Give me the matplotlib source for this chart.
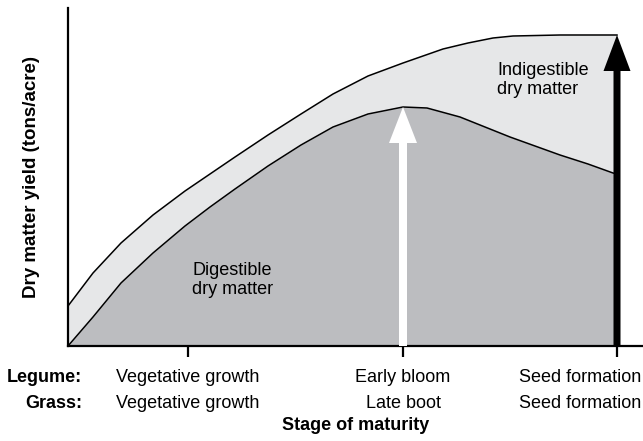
import numpy as np
import matplotlib
matplotlib.use('Agg')
import matplotlib.pyplot as plt

plt.rcParams['font.family'] = ['Liberation Sans', 'DejaVu Sans']

# stage axis (arbitrary units) and yields
total_x = [0, 25, 53, 85, 117, 142, 167, 200, 233, 265, 300, 335, 375, 400, 425, 445, 492, 549]
total_y = [40, 73, 103, 131, 155, 172, 189, 211, 232, 252, 270, 283, 297, 303, 308, 310, 311, 311]
digest_x = [0, 25, 53, 85, 117, 142, 167, 200, 233, 265, 300, 335, 359, 392, 417, 442, 467, 492, 520, 545, 549]
digest_y = [0, 29, 63, 93, 120, 139, 157, 180, 201, 219, 232, 239, 238, 229, 219, 209, 200, 191, 182, 173, 172]

stage_x = [120, 335, 549]
legume_lbl = ['Vegetative growth', 'Early bloom', 'Seed formation']
grass_lbl = ['Vegetative growth', 'Late boot', 'Seed formation']

peak_digest = 239   # early bloom
peak_total = 311    # seed formation

light = '#e6e7e8'
dark = '#bcbdc0'

fig = plt.figure(figsize=(6.43, 4.41), dpi=100)
ax = fig.add_axes([68/643, 95/441, 575/643, 338/441])
ax.set_xlim(0, 575)
ax.set_ylim(0, 338)

tx = np.array(total_x)
ty = np.array(total_y)
dx = np.array(digest_x)
dy = np.array(digest_y)
# light band between the two curves, dark area under digestible curve
ax.fill_between(tx, ty, np.interp(tx, dx, dy), color=light, lw=0)
ax.fill_between(dx, dy, np.interp(dx, tx, ty), color=light, lw=0)
ax.fill_between(dx, 0, dy, color=dark, lw=0)
ax.plot(tx, ty, color='black', lw=1.1, solid_joinstyle='round')
ax.plot(dx, dy, color='black', lw=1.1, solid_joinstyle='round')

# arrows
ax.arrow(stage_x[1], 0, 0, peak_digest, width=8, head_width=28, head_length=36,
         length_includes_head=True, color='white', lw=0, zorder=5)
ax.arrow(stage_x[2], 0, 0, peak_total, width=7, head_width=27, head_length=36,
         length_includes_head=True, color='black', lw=0, zorder=5)

ax.text(429, 266, 'Indigestible\ndry matter', fontsize=13, ha='left', va='center')
ax.text(124, 66, 'Digestible\ndry matter', fontsize=13, ha='left', va='center')

for s in ['top', 'right']:
    ax.spines[s].set_visible(False)
for s in ['left', 'bottom']:
    ax.spines[s].set_linewidth(1.6)
ax.set_yticks([])
ax.set_xticks(stage_x)
ax.set_xticklabels([])
ax.tick_params(axis='x', length=8, width=1.6, direction='out')

trans = ax.get_xaxis_transform()
y1 = -31/338
y2 = -57/338
ax.text(14, y1, 'Legume:', transform=trans, fontsize=13, fontweight='bold', ha='right', va='center')
ax.text(14, y2, 'Grass:', transform=trans, fontsize=13, fontweight='bold', ha='right', va='center')
for i in range(3):
    xpos = stage_x[i]
    ha = 'center'
    if i == 2:
        xpos = 573
        ha = 'right'
    ax.text(xpos, y1, legume_lbl[i], transform=trans, fontsize=13, ha=ha, va='center')
    ax.text(xpos, y2, grass_lbl[i], transform=trans, fontsize=13, ha=ha, va='center')

ax.text(0.5, -79/338, 'Stage of maturity', transform=ax.transAxes, fontsize=13,
        fontweight='bold', ha='center', va='center')
fig.text(32/643, 1 - 177/441, 'Dry matter yield (tons/acre)', fontsize=13.5, fontweight='bold',
         rotation=90, ha='center', va='center')

fig.savefig('out.png', dpi=100)
